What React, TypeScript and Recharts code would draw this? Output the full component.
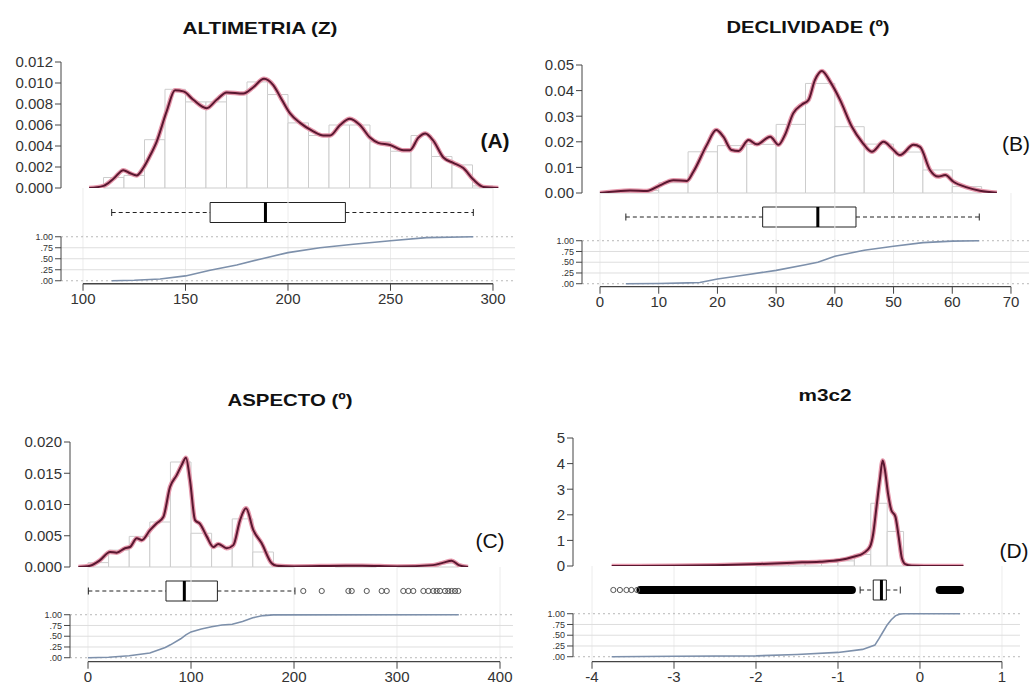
import React from "react";
import {
  ComposedChart,
  Line,
  Scatter,
  XAxis,
  YAxis,
  ReferenceArea,
  ReferenceLine,
} from "recharts";

type Pt = [number, number];
type Box = { min: number; q1: number; med: number; q3: number; max: number };

// ---------- (A) ALTIMETRIA (Z) ----------
const altXTicks = [100, 150, 200, 250, 300];
const altYTicks = [0, 0.002, 0.004, 0.006, 0.008, 0.01, 0.012];
const altBreaks = [110, 120, 130, 140, 150, 160, 170, 180, 190, 200, 210, 220, 230, 240, 250, 260, 270, 280, 290, 300];
const altHist = [0.001, 0.0012, 0.0046, 0.0094, 0.0082, 0.0082, 0.009, 0.0101, 0.0089, 0.0062, 0.005, 0.006, 0.006, 0.0044, 0.0035, 0.005, 0.003, 0.0022, 0.0002];
const altDensity: Pt[] = [
  [103, 0], [110, 0.0002], [115, 0.0009], [119.7, 0.0017], [123, 0.0014], [126.2, 0.0012],
  [129.4, 0.0019], [132.5, 0.003], [135.9, 0.0044], [140.8, 0.0073], [144.9, 0.0093], [149, 0.0092],
  [153.8, 0.0084], [160.3, 0.0076], [165.2, 0.0084], [170.1, 0.0091], [178.2, 0.009], [183.1, 0.0096],
  [188.3, 0.0104], [192.8, 0.0098], [197, 0.0084], [201, 0.0071], [205.9, 0.0062], [212.3, 0.0054],
  [217.2, 0.005], [220.5, 0.005], [225.4, 0.006], [230.2, 0.0066], [235.1, 0.006], [240, 0.0048],
  [244, 0.0043], [249.8, 0.0041], [256.3, 0.0036], [259.5, 0.0036], [263.6, 0.0048], [267, 0.0052],
  [270.9, 0.0045], [275.8, 0.0029], [280.6, 0.0024], [285.5, 0.0019], [290.4, 0.0008], [295.3, 0.0001],
  [302.6, 0],
];
const altBox: Box = { min: 114, q1: 162, med: 189, q3: 228, max: 290.4 };
const altOutliers: number[] = [];
const altEcdf: Pt[] = [
  [114, 0], [125, 0.01], [137.6, 0.04], [150, 0.11], [162, 0.24], [175, 0.36], [186.3, 0.49],
  [200, 0.64], [215.6, 0.75], [231.9, 0.83], [250, 0.91], [267.6, 0.98], [290.4, 1],
];

// ---------- (B) DECLIVIDADE ----------
const decXTicks = [0, 10, 20, 30, 40, 50, 60, 70];
const decYTicks = [0, 0.01, 0.02, 0.03, 0.04, 0.05];
const decBreaks = [0, 5, 10, 15, 20, 25, 30, 35, 40, 45, 50, 55, 60, 65];
const decHist = [0.0005, 0.001, 0.004, 0.0161, 0.0185, 0.019, 0.0268, 0.0428, 0.0259, 0.0191, 0.016, 0.009, 0.0025];
const decDensity: Pt[] = [
  [0, 0], [5.1, 0.001], [8, 0.0008], [10.2, 0.003], [12.5, 0.005], [14.8, 0.0047], [15.9, 0.0083],
  [18.2, 0.0188], [19.8, 0.0246], [21, 0.022], [22.4, 0.0168], [23.6, 0.0164], [25.3, 0.0207],
  [26.7, 0.019], [29, 0.022], [30.4, 0.0188], [31.5, 0.0227], [32.9, 0.0311], [34.4, 0.0346],
  [35.5, 0.0363], [36.6, 0.0441], [37.8, 0.0477], [39.2, 0.0435], [40.9, 0.0363], [42.9, 0.0259],
  [44.6, 0.02], [46.3, 0.0161], [48.3, 0.02], [49.7, 0.0175], [51.1, 0.0148], [53.4, 0.0188],
  [54.5, 0.018], [56.2, 0.009], [57.6, 0.0064], [58.8, 0.007], [60.2, 0.0044], [62.5, 0.0022],
  [64.7, 0.0009], [67.6, 0.0001],
];
const decBox: Box = { min: 4.4, q1: 27.7, med: 37.1, q3: 43.6, max: 64.6 };
const decOutliers: number[] = [];
const decEcdf: Pt[] = [
  [4.4, 0], [10, 0.005], [15, 0.02], [17, 0.03], [20, 0.11], [25, 0.21], [30, 0.31], [35, 0.44],
  [37.1, 0.5], [40, 0.64], [45, 0.78], [50, 0.87], [55, 0.955], [60, 0.99], [64.6, 1],
];

// ---------- (C) ASPECTO ----------
const aspXTicks = [0, 100, 200, 300, 400];
const aspYTicks = [0, 0.005, 0.01, 0.015, 0.02];
const aspBreaks = [0, 20, 40, 60, 80, 100, 120, 140, 160, 180, 200, 220, 240, 260, 280, 300, 320, 340, 360];
const aspHist = [0.0007, 0.0027, 0.0049, 0.0072, 0.0168, 0.0054, 0.0032, 0.0077, 0.0024, 0.0001, 0, 0, 0.0001, 0.0001, 0, 0.0001, 0.0002, 0.0006];
const aspDensity: Pt[] = [
  [-9.4, 0], [1.9, 0.0002], [11.7, 0.0011], [21.4, 0.0024], [27.8, 0.0023], [35.9, 0.003],
  [40.8, 0.0032], [47.3, 0.0046], [52.1, 0.0043], [60.2, 0.0059], [66.7, 0.007], [73.1, 0.008],
  [79.6, 0.0128], [86.1, 0.0147], [90.9, 0.0163], [95.1, 0.0175], [99, 0.0139], [103.9, 0.0075],
  [108.7, 0.0069], [115.2, 0.0049], [121.7, 0.0032], [126.5, 0.0037], [134.6, 0.003], [141.1, 0.0035],
  [147.6, 0.0075], [153.4, 0.0094], [160.5, 0.0059], [168.6, 0.0038], [178.3, 0.0006], [183.2, 0.0002],
  [200, 0.0001], [250, 0.0002], [266, 0.0002], [300, 0.0001], [335, 0.0003], [345, 0.0007],
  [353, 0.001], [360, 0.0003], [369, 0],
];
const aspBox: Box = { min: 0.3, q1: 75.7, med: 93.5, q3: 125.6, max: 200.9 };
const aspOutliers = [
  209, 226.9, 252.8, 256, 270.6, 285.1, 290, 306.1, 311, 315.8, 325.6, 330.4, 335.3, 338.5, 341.7,
  346.6, 349.8, 353, 356.3, 359.5,
];
const aspEcdf: Pt[] = [
  [0, 0], [20, 0.01], [40, 0.045], [60, 0.11], [75, 0.24], [80, 0.3], [90, 0.44], [95, 0.53],
  [100, 0.6], [110, 0.67], [120, 0.72], [130, 0.76], [140, 0.78], [150, 0.84], [160, 0.93],
  [170, 0.98], [180, 0.997], [360, 1],
];

// ---------- (D) m3c2 ----------
const m3XTicks = [-4, -3, -2, -1, 0, 1];
const m3YTicks = [0, 1, 2, 3, 4, 5];
const m3Breaks = [-2, -1.8, -1.6, -1.4, -1.2, -1, -0.8, -0.6, -0.4, -0.2, 0];
const m3Hist = [0.06, 0.08, 0.1, 0.12, 0.15, 0.2, 0.45, 2.45, 1.35, 0.02];
const m3Density: Pt[] = [
  [-3.76, 0], [-3, 0.01], [-2.5, 0.03], [-1.95, 0.08], [-1.55, 0.13], [-1.22, 0.17], [-0.98, 0.23],
  [-0.81, 0.36], [-0.69, 0.5], [-0.61, 0.75], [-0.57, 1.27], [-0.53, 2.32], [-0.49, 3.36],
  [-0.455, 4.12], [-0.43, 3.8], [-0.39, 2.84], [-0.35, 2.19], [-0.3, 1.93], [-0.26, 1.15],
  [-0.22, 0.3], [-0.18, 0.07], [-0.1, 0.01], [0.2, 0], [0.53, 0],
];
const m3Box: Box = { min: -0.73, q1: -0.57, med: -0.47, q3: -0.41, max: -0.24 };
const m3Outliers = [-3.74, -3.66, -3.58, -3.52, -3.45];
const m3OutlierBands: Pt[] = [[-3.41, -0.83], [0.24, 0.49]];
const m3Ecdf: Pt[] = [
  [-3.76, 0], [-3, 0.01], [-2, 0.02], [-1.5, 0.05], [-1, 0.1], [-0.7, 0.17], [-0.55, 0.27],
  [-0.5, 0.42], [-0.45, 0.58], [-0.4, 0.74], [-0.35, 0.86], [-0.3, 0.95], [-0.25, 0.99],
  [-0.2, 1], [0.49, 1],
];

// ---------- styling ----------
const FONT = "'Liberation Sans', Arial, sans-serif";
const YW = 60;
const PAD = 8;
const AXIS = "#444";
const TXT = "#333";
const DENS = "#5a1730";
const HALO = "#e597ab";
const ECDF = "#7d90ab";

type PanelProps = {
  left: number;
  right: number;
  xDomain: [number, number];
  xTicks: number[];
  histTop: number;
  histZero: number;
  yTicks: number[];
  yFmt: (v: number) => string;
  breaks: number[];
  hist: number[];
  density: Pt[];
  box: Box;
  outliers: number[];
  bands?: Pt[];
  ecdfOne: number;
  ecdfZero: number;
  axisY: number;
  ecdf: Pt[];
};

const ecdfFmt = (v: number) => (v === 1 ? "1.00" : "." + String(Math.round(v * 100)).padStart(2, "0"));
const toXY = (pts: Pt[]) => pts.map(([x, y]) => ({ x, y }));

function Panel(p: PanelProps) {
  const chartLeft = p.left - YW;
  const chartW = p.right - p.left + YW + 20;
  const yMax = p.yTicks[p.yTicks.length - 1];
  const histH = p.histZero - p.histTop;
  const boxH = p.ecdfOne - p.histZero;
  const bh = 20 / boxH;
  const sh = 7 / boxH;
  const span = p.ecdfZero - p.ecdfOne;
  const eTop = p.ecdfOne - 0.04 * span;
  const yLo = -(p.axisY - p.ecdfZero) / span;
  const dens = toXY(p.density);
  const tickStyle = { fontSize: 15, fill: TXT, fontFamily: FONT };

  return (
    <>
      <div style={{ position: "absolute", left: chartLeft, top: p.histTop - PAD }}>
        <ComposedChart width={chartW} height={histH + 2 * PAD} margin={{ top: PAD, bottom: PAD, left: 0, right: 20 }}>
          <XAxis type="number" dataKey="x" domain={p.xDomain} allowDataOverflow hide />
          <YAxis
            type="number"
            dataKey="y"
            domain={[0, yMax]}
            ticks={p.yTicks}
            interval={0}
            allowDataOverflow
            width={YW}
            tickFormatter={p.yFmt}
            tick={tickStyle}
            stroke={AXIS}
            tickSize={6}
          />
          {p.hist.map((h, i) =>
            h > 0 ? (
              <ReferenceArea
                key={i}
                x1={p.breaks[i]}
                x2={p.breaks[i + 1]}
                y1={0}
                y2={h}
                fill="#fff"
                fillOpacity={1}
                stroke="#cdcdcd"
                strokeWidth={1}
                ifOverflow="visible"
              />
            ) : null
          )}
          <Line data={dens} dataKey="y" type="monotone" dot={false} stroke={HALO} strokeWidth={4.5} isAnimationActive={false} />
          <Line data={dens} dataKey="y" type="monotone" dot={false} stroke={DENS} strokeWidth={2} isAnimationActive={false} />
        </ComposedChart>
      </div>

      <div style={{ position: "absolute", left: chartLeft, top: p.histZero }}>
        <ComposedChart width={chartW} height={boxH} margin={{ top: 0, bottom: 0, left: 0, right: 20 }}>
          <XAxis type="number" dataKey="x" domain={p.xDomain} allowDataOverflow hide />
          <YAxis type="number" dataKey="y" domain={[-1, 1]} allowDataOverflow width={YW} tick={false} axisLine={false} tickLine={false} />
          {p.xTicks.map((t) => (
            <ReferenceLine key={"g" + t} x={t} stroke="#ececec" />
          ))}
          <ReferenceLine segment={[{ x: p.box.min, y: 0 }, { x: p.box.q1, y: 0 }]} stroke="#222" strokeDasharray="4 3" />
          <ReferenceLine segment={[{ x: p.box.q3, y: 0 }, { x: p.box.max, y: 0 }]} stroke="#222" strokeDasharray="4 3" />
          <ReferenceLine segment={[{ x: p.box.min, y: -sh }, { x: p.box.min, y: sh }]} stroke="#222" />
          <ReferenceLine segment={[{ x: p.box.max, y: -sh }, { x: p.box.max, y: sh }]} stroke="#222" />
          <ReferenceArea x1={p.box.q1} x2={p.box.q3} y1={-bh} y2={bh} fill="#fff" fillOpacity={1} stroke="#222" strokeWidth={1} />
          <ReferenceLine segment={[{ x: p.box.med, y: -bh }, { x: p.box.med, y: bh }]} stroke="#000" strokeWidth={3} />
          {(p.bands || []).map(([a, b], i) => (
            <ReferenceLine key={"b" + i} segment={[{ x: a, y: 0 }, { x: b, y: 0 }]} stroke="#000" strokeWidth={8} strokeLinecap="round" />
          ))}
          <Scatter
            data={p.outliers.map((x) => ({ x, y: 0 }))}
            dataKey="y"
            isAnimationActive={false}
            shape={(s: any) => <circle cx={s.cx} cy={s.cy} r={2.6} fill="none" stroke="#555" strokeWidth={1} />}
          />
        </ComposedChart>
      </div>

      <div style={{ position: "absolute", left: chartLeft, top: eTop - PAD }}>
        <ComposedChart width={chartW} height={p.axisY - eTop + PAD + 34} margin={{ top: PAD, bottom: 0, left: 0, right: 20 }}>
          <XAxis
            type="number"
            dataKey="x"
            domain={p.xDomain}
            ticks={p.xTicks}
            interval={0}
            allowDataOverflow
            axisLine={false}
            tickSize={7}
            tickMargin={3}
            height={34}
            tick={tickStyle}
            stroke={AXIS}
          />
          <YAxis
            type="number"
            dataKey="y"
            domain={[yLo, 1.04]}
            ticks={[0, 0.25, 0.5, 0.75, 1]}
            interval={0}
            allowDataOverflow
            axisLine={false}
            width={YW}
            tickFormatter={ecdfFmt}
            tick={{ fontSize: 9, fill: TXT, fontFamily: FONT }}
            tickSize={6}
            stroke={AXIS}
          />
          {p.xTicks.map((t) => (
            <ReferenceLine key={"g" + t} x={t} stroke="#ececec" />
          ))}
          {[0.25, 0.5, 0.75].map((v) => (
            <ReferenceLine key={"h" + v} y={v} stroke="#dedede" />
          ))}
          <ReferenceLine y={0} stroke="#b8b8b8" strokeDasharray="2 3" />
          <ReferenceLine y={1} stroke="#b8b8b8" strokeDasharray="2 3" />
          <ReferenceLine segment={[{ x: p.xDomain[0], y: 0 }, { x: p.xDomain[0], y: 1 }]} stroke={AXIS} ifOverflow="visible" />
          <ReferenceLine
            segment={[{ x: p.xTicks[0], y: yLo }, { x: p.xTicks[p.xTicks.length - 1], y: yLo }]}
            stroke={AXIS}
            strokeWidth={1.3}
            ifOverflow="visible"
          />
          <Line data={toXY(p.ecdf)} dataKey="y" type="linear" dot={false} stroke={ECDF} strokeWidth={1.6} isAnimationActive={false} />
        </ComposedChart>
      </div>
    </>
  );
}

const titles = [
  { text: "ALTIMETRIA (Z)", x: 260, y: 28, w: 155 },
  { text: "DECLIVIDADE (º)", x: 808, y: 27, w: 163 },
  { text: "ASPECTO (º)", x: 290, y: 400, w: 125 },
  { text: "m3c2", x: 825, y: 395, w: 53 },
];
const tags = [
  { text: "(A)", x: 495, y: 140, bold: true },
  { text: "(B)", x: 1016, y: 143, bold: false },
  { text: "(C)", x: 490, y: 540, bold: false },
  { text: "(D)", x: 1014, y: 550, bold: false },
];

export default function App() {
  return (
    <div
      style={{
        position: "absolute",
        left: 0,
        top: 0,
        width: 1034,
        height: 687,
        background: "#fff",
        overflow: "hidden",
        fontFamily: FONT,
      }}
    >
      <Panel
        left={61}
        right={515}
        xDomain={[89.27, 310.73]}
        xTicks={altXTicks}
        histTop={62}
        histZero={188}
        yTicks={altYTicks}
        yFmt={(v) => v.toFixed(3)}
        breaks={altBreaks}
        hist={altHist}
        density={altDensity}
        box={altBox}
        outliers={altOutliers}
        ecdfOne={237}
        ecdfZero={281}
        axisY={284}
        ecdf={altEcdf}
      />
      <Panel
        left={582}
        right={1029}
        xDomain={[-3.07, 73.07]}
        xTicks={decXTicks}
        histTop={65}
        histZero={193}
        yTicks={decYTicks}
        yFmt={(v) => v.toFixed(2)}
        breaks={decBreaks}
        hist={decHist}
        density={decDensity}
        box={decBox}
        outliers={decOutliers}
        ecdfOne={241}
        ecdfZero={284}
        axisY={287}
        ecdf={decEcdf}
      />
      <Panel
        left={70}
        right={513}
        xDomain={[-17.5, 412.6]}
        xTicks={aspXTicks}
        histTop={442}
        histZero={567}
        yTicks={aspYTicks}
        yFmt={(v) => v.toFixed(3)}
        breaks={aspBreaks}
        hist={aspHist}
        density={aspDensity}
        box={aspBox}
        outliers={aspOutliers}
        ecdfOne={615}
        ecdfZero={658}
        axisY={662}
        ecdf={aspEcdf}
      />
      <Panel
        left={573}
        right={1020}
        xDomain={[-4.232, 1.22]}
        xTicks={m3XTicks}
        histTop={438}
        histZero={566}
        yTicks={m3YTicks}
        yFmt={(v) => String(v)}
        breaks={m3Breaks}
        hist={m3Hist}
        density={m3Density}
        box={m3Box}
        outliers={m3Outliers}
        bands={m3OutlierBands}
        ecdfOne={614}
        ecdfZero={657}
        axisY={662}
        ecdf={m3Ecdf}
      />
      <svg width={1034} height={687} style={{ position: "absolute", left: 0, top: 0, pointerEvents: "none" }}>
        {titles.map((t) => (
          <text
            key={t.text}
            x={t.x}
            y={t.y}
            textAnchor="middle"
            dominantBaseline="central"
            fontFamily={FONT}
            fontWeight="bold"
            fontSize={17}
            fill="#111"
            textLength={t.w}
            lengthAdjust="spacingAndGlyphs"
          >
            {t.text}
          </text>
        ))}
        {tags.map((t) => (
          <text
            key={t.text}
            x={t.x}
            y={t.y}
            textAnchor="middle"
            dominantBaseline="central"
            fontFamily={FONT}
            fontWeight={t.bold ? "bold" : "normal"}
            fontSize={21}
            fill="#111"
          >
            {t.text}
          </text>
        ))}
      </svg>
    </div>
  );
}
